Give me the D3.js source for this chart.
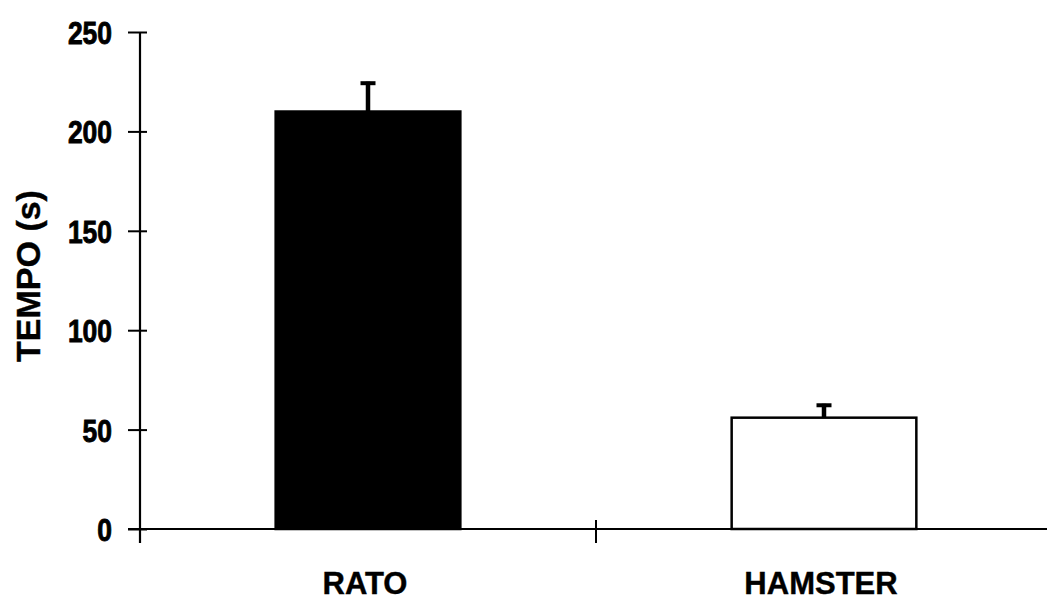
<!DOCTYPE html>
<html>
<head>
<meta charset="utf-8">
<script src="https://cdn.jsdelivr.net/npm/d3@7"></script>
<style>
  html, body { margin: 0; padding: 0; background: #fff; }
  svg { display: block; }
  .tick-num { font-family: "Liberation Sans Narrow", "Liberation Sans", Arial, sans-serif; font-weight: bold; font-size: 32px; }
  .lbl { font-family: "Liberation Sans", Arial, sans-serif; font-weight: bold; }
</style>
</head>
<body>
<svg id="chart" width="1047" height="606"></svg>
<script>
// Mean time per group with standard error
const categories = ["RATO", "HAMSTER"];
const means = [210, 56];
const errors = [15, 7];
const fills = ["#000", "#fff"];
const yTicks = [0, 50, 100, 150, 200, 250];
const yLabel = "TEMPO (s)";

const W = 1047, H = 606;
const svg = d3.select("#chart");

const y = d3.scaleLinear().domain([0, 250]).range([529, 32]);
const x = d3.scaleBand().domain(categories).range([140, 1052]);
const barW = x.bandwidth() * 0.405;

// Bars
svg.selectAll("rect.bar")
  .data(categories)
  .join("rect")
  .attr("class", "bar")
  .attr("x", d => x(d) + x.bandwidth() / 2 - barW / 2)
  .attr("y", (d, i) => y(means[i]))
  .attr("width", barW)
  .attr("height", (d, i) => y(0) - y(means[i]))
  .attr("fill", (d, i) => fills[i])
  .attr("stroke", "#000")
  .attr("stroke-width", 2.5);

// Upper error bars
const eb = svg.selectAll("g.err").data(categories).join("g").attr("class", "err");
eb.append("line")
  .attr("x1", d => x(d) + x.bandwidth() / 2)
  .attr("x2", d => x(d) + x.bandwidth() / 2)
  .attr("y1", (d, i) => y(means[i]))
  .attr("y2", (d, i) => y(means[i] + errors[i]))
  .attr("stroke", "#000").attr("stroke-width", 4.5);
eb.append("line")
  .attr("x1", d => x(d) + x.bandwidth() / 2 - 7.5)
  .attr("x2", d => x(d) + x.bandwidth() / 2 + 7.5)
  .attr("y1", (d, i) => y(means[i] + errors[i]) + 1.5)
  .attr("y2", (d, i) => y(means[i] + errors[i]) + 1.5)
  .attr("stroke", "#000").attr("stroke-width", 4);

// Y axis
const yAxis = svg.append("g").attr("transform", "translate(140,0)")
  .call(d3.axisLeft(y).tickValues(yTicks).tickSize(0).tickFormat(""));
yAxis.select(".domain").remove();
svg.append("line").attr("x1", 140).attr("x2", 140).attr("y1", y(250)).attr("y2", 543)
  .attr("stroke", "#000").attr("stroke-width", 2.2);
yAxis.selectAll(".tick").append("line")
  .attr("x1", -12).attr("x2", 7).attr("stroke", "#000").attr("stroke-width", 2);
yAxis.selectAll(".tick").append("text")
  .attr("class", "tick-num")
  .attr("x", -28)
  .attr("dy", "0.36em")
  .attr("text-anchor", "end")
  .attr("fill", "#000")
  .attr("stroke", "#000")
  .attr("stroke-width", 0.9)
  .attr("textLength", d => String(d).length * 14.7)
  .attr("lengthAdjust", "spacingAndGlyphs")
  .text(d => d);

// X axis
svg.append("line").attr("x1", 128).attr("x2", W).attr("y1", y(0)).attr("y2", y(0))
  .attr("stroke", "#000").attr("stroke-width", 2.2);
const xEdges = [x.range()[0], ...categories.slice(1).map(c => x(c))];
svg.selectAll("line.xtick").data(xEdges).join("line")
  .attr("class", "xtick")
  .attr("x1", d => d).attr("x2", d => d)
  .attr("y1", y(0) - 9).attr("y2", 543)
  .attr("stroke", "#000").attr("stroke-width", 2);

// Category labels
svg.selectAll("text.cat").data(categories).join("text")
  .attr("class", "lbl cat")
  .attr("x", d => x(d) + x.bandwidth() / 2 - 3)
  .attr("y", 594)
  .attr("text-anchor", "middle")
  .attr("font-size", 31)
  .attr("fill", "#000")
  .attr("stroke", "#000")
  .attr("stroke-width", 0.4)
  .text(d => d);

// Y axis title
svg.append("text")
  .attr("class", "lbl")
  .attr("transform", "translate(40,276) rotate(-90)")
  .attr("text-anchor", "middle")
  .attr("font-size", 34)
  .attr("fill", "#000")
  .attr("stroke", "#000")
  .attr("stroke-width", 0.4)
  .text(yLabel);
</script>
</body>
</html>
